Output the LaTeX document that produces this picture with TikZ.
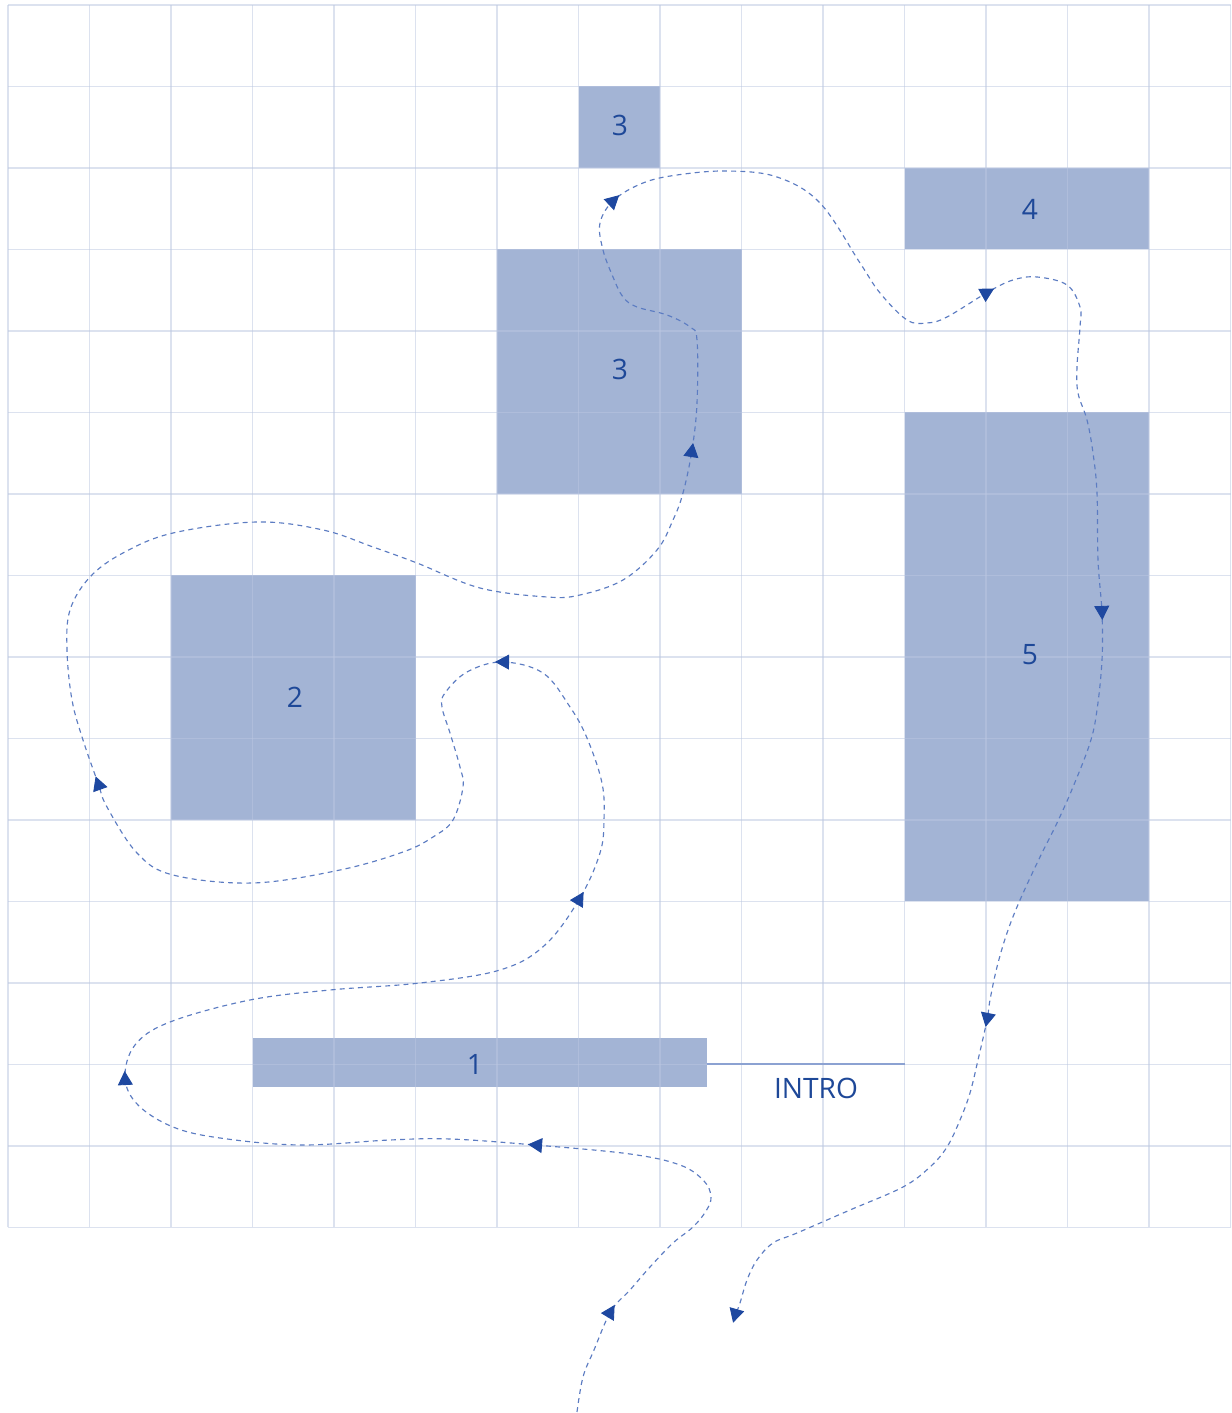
\documentclass[tikz,border=0pt]{standalone}
\usepackage{fontspec}
\setmainfont{Open Sans}
\usetikzlibrary{arrows.meta,calc}
\definecolor{gridc}{RGB}{187,199,225}
\definecolor{boxc}{RGB}{163,180,213}
\definecolor{txtc}{RGB}{30,72,152}
\definecolor{pathc}{RGB}{92,124,194}
\definecolor{tipc}{RGB}{30,72,160}
\definecolor{introc}{RGB}{140,162,210}
\newcommand\pathtip[3]{%
  \coordinate (tf) at ($(#1)+(#3)-(#2)$);
  \coordinate (tb) at ($(#1)-(#3)+(#2)$);
  \draw[tipline] ($(#1)!4pt!(tb)$) -- ($(#1)!4pt!(tf)$);
}
\begin{document}
\begin{tikzpicture}[x=0.02cm,y=0.02cm,
  gridline/.style={draw=gridc,line width=0.7pt,opacity=0.5},
  boxfill/.style={fill=boxc,draw=none},
  lbl/.style={text=txtc,font=\fontsize{16}{19}\selectfont,inner sep=0pt},
  route/.style={draw=pathc,line width=0.65pt,dash pattern=on 2.8pt off 2.4pt},
  tipline/.style={draw=tipc,fill=tipc,line width=0.5pt,solid,-{Triangle[length=8pt,width=8.5pt]}},
  introline/.style={draw=introc,line width=0.7pt}]
\useasboundingbox (0,0) rectangle (1231,1413);
\fill[white] (0,0) rectangle (1231,1413);
% boxes
\path[boxfill] (578.5,1245) rectangle (660,1326.5);
\path[boxfill] (497,919) rectangle (741.5,1163.5);
\path[boxfill] (904.5,1163.5) rectangle (1149,1245);
\path[boxfill] (904.5,511.5) rectangle (1149,1000.5);
\path[boxfill] (171,593) rectangle (415.5,837.5);
\path[boxfill] (253,326) rectangle (707,375);
% grid
\foreach \i in {0,...,15} {
  \draw[gridline] ({8+81.5*\i},185.5) -- ({8+81.5*\i},1408);
  \draw[gridline] (8,{1408-81.5*\i}) -- (1230.5,{1408-81.5*\i});
}
% labels
\node[lbl] (l3a) at (620,1288) {3};
\node[lbl] (l3b) at (620,1044) {3};
\node[lbl] (l4) at (1030,1204) {4};
\node[lbl] (l5) at (1030,758) {5};
\node[lbl] (l2) at (295,716) {2};
\node[lbl] (l1) at (475,349) {1};
\coordinate (ia) at (707,349);
\coordinate (ib) at (904.5,349);
\draw[introline] (ia) -- (ib);
\node[lbl] (intro) at (816,325) {INTRO};
% arrow points
\coordinate (a1) at (611,102);
\coordinate (a2) at (535,268);
\coordinate (a3) at (125,335);
\coordinate (a4) at (580,515);
\coordinate (a5) at (502,751);
\coordinate (a6) at (98,630);
\coordinate (a7) at (692,963);
\coordinate (a8) at (614,1213);
\coordinate (a9) at (988,1121);
\coordinate (a10) at (1102,800);
\coordinate (a11) at (987,393);
\coordinate (a12) at (735,97);
% route
\draw[route] plot[smooth,tension=0.6] coordinates {
 (577,1) (583,36) (594,63) (a1) (630,123) (650,146) (673,170) (693,186)
 (706,202) (711,216) (704,232) (680,248) (630,259) (a2)
 (450,274) (390,273) (300,268) (220,275) (173,286) (138,308) (a3)
 (135,368) (170,391) (250,413) (330,423) (420,430) (500,443) (545,468) (a4)
 (600,560) (604,593) (602,630) (587,675) (570,706) (543,740) (a5)
 (467,741) (445,720) (442,706) (450,680) (460,646) (463,626) (453,593)
 (433,576) (403,561) (340,543) (253,530) (173,538) (137,560) (107,606) (a6)
 (83,673) (72,713) (67,763) (70,803) (90,836) (123,860) (173,880) (257,891)
 (323,883) (373,866) (417,850) (480,825) (547,816) (580,818) (623,833)
 (657,863) (673,893) (683,920) (a7)
 (697,1010) (697,1073) (690,1086) (667,1098) (637,1106) (623,1116) (613,1136)
 (603,1163) (600,1190) (a8)
 (643,1230) (677,1238) (727,1242) (777,1236) (820,1210) (860,1150) (880,1120)
 (907,1093) (927,1090) (947,1096) (a9)
 (1013,1133) (1037,1136) (1067,1128) (1080,1106) (1080,1086) (1077,1046)
 (1078,1020) (1087,993) (1093,960) (1097,920) (1098,853) (a10)
 (1102,753) (1097,703) (1090,670) (1073,626) (1057,590) (1040,556) (1020,513)
 (1007,480) (997,446) (990,413) (a11)
 (978,353) (970,320) (960,293) (947,266) (930,246) (903,226) (850,203)
 (797,180) (773,170) (757,153) (747,133) (740,110) (a12)};
% arrow tips
\pathtip{a1}{594,63}{630,123}
\pathtip{a2}{630,259}{450,274}
\pathtip{a3}{138,308}{135,368}
\pathtip{a4}{545,468}{600,560}
\pathtip{a5}{543,740}{467,741}
\pathtip{a6}{107,606}{83,673}
\pathtip{a7}{683,920}{697,1010}
\pathtip{a8}{600,1190}{643,1230}
\pathtip{a9}{947,1096}{1013,1133}
\pathtip{a10}{1098,853}{1102,753}
\pathtip{a11}{990,413}{978,353}
\pathtip{a12}{740,110}{732,82}
\end{tikzpicture}
\end{document}
